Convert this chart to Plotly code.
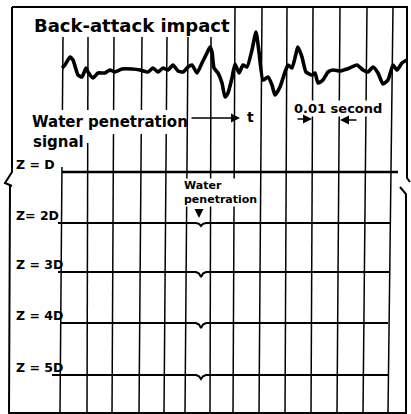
import plotly.graph_objects as go

# ---- data (chart units: x to the right, y downward) ----
impact_x = [62, 65, 70, 73, 78, 82, 86, 88, 93, 98, 105, 110, 115, 122, 132, 140, 148, 153, 158, 163,
            168, 173, 178, 183, 188, 192, 197, 202, 207, 210, 212, 214, 218, 222, 225, 228, 232, 235,
            239, 243, 247, 252, 256, 259, 263, 268, 272, 275, 280, 285, 288, 292, 298, 302, 306, 312,
            315, 318, 323, 328, 333, 340, 347, 357, 363, 368, 373, 378, 383, 388, 393, 397, 402, 407]
impact_y = [68, 65, 57, 60, 75, 77, 68, 72, 78, 73, 73, 70, 72, 69, 69, 70, 72, 68, 72, 68,
            70, 65, 71, 72, 67, 65, 73, 63, 53, 47, 52, 68, 73, 83, 97, 93, 78, 64,
            73, 65, 67, 50, 32, 52, 80, 77, 85, 95, 87, 72, 65, 68, 47, 57, 72, 75,
            73, 83, 80, 72, 70, 71, 69, 65, 70, 72, 67, 73, 84, 80, 65, 70, 63, 60]

channel_labels = ["Z = D", "Z= 2D", "Z = 3D", "Z = 4D", "Z = 5D"]
channel_base = [172, 223, 272, 323, 375]
channel_start = [62, 58, 58, 60, 52]
channel_end = [398, 390, 390, 388, 388]
channel_dip = [0, 3, 5, 5, 4]
dip_time = 201

mark_top_x = [63, 88, 114, 142, 167, 188, 211, 235, 262, 287, 313, 340, 367, 393]
mark_bottom_x = [60, 87, 112, 139, 164, 185, 210, 233, 259, 285, 311, 337, 363, 388]
mark_top_y = [37, 37, 37, 37, 37, 37, 37, 7, 7, 7, 7, 7, 7, 7]
mark_bottom_y = 413

FONT = "DejaVu Sans"
fig = go.Figure()

# timing marks
for xt, xb, yt in zip(mark_top_x, mark_bottom_x, mark_top_y):
    fig.add_trace(go.Scatter(x=[xt, xb], y=[yt, mark_bottom_y], mode="lines",
                             line=dict(color="black", width=1.5), hoverinfo="skip"))

# impact trace
fig.add_trace(go.Scatter(x=impact_x, y=impact_y, mode="lines",
                         line=dict(color="black", width=3.6, shape="spline", smoothing=0.5),
                         hoverinfo="skip"))

# channel traces
for base, xs, xe, d in zip(channel_base, channel_start, channel_end, channel_dip):
    xx = [xs, dip_time - 5, dip_time - 2, dip_time, dip_time + 2, dip_time + 5, xe]
    yy = [base, base, base + d * 0.3, base + d, base + d * 0.3, base, base]
    fig.add_trace(go.Scatter(x=xx, y=yy, mode="lines",
                             line=dict(color="black", width=2.4 if d == 0 else 2),
                             hoverinfo="skip"))

shapes = [
    dict(type="path", path="M 12 7 L 407 7 L 407 178 L 410 182", line=dict(color="black", width=2)),
    dict(type="path", path="M 12 7 L 12 172 L 5 183 L 12 186", line=dict(color="black", width=2)),
    dict(type="path", path="M 10 186 L 9 413 L 406 413 L 406 194 L 400 187", line=dict(color="black", width=2)),
    # masks behind label text
    dict(type="rect", x0=26, x1=184, y0=110, y1=134, fillcolor="white", line=dict(width=0), layer="above"),
    dict(type="rect", x0=26, x1=92, y0=134, y1=143, fillcolor="white", line=dict(width=0), layer="above"),
    dict(type="rect", x0=26, x1=70, y0=143, y1=167, fillcolor="white", line=dict(width=0), layer="above"),
]

ann = []
def txt(t, x, y, size, anchor="left", bg="rgba(0,0,0,0)"):
    ann.append(dict(text=t, x=x, y=y, xref="x", yref="y", showarrow=False, xanchor=anchor,
                    yanchor="middle", align="left",
                    font=dict(family=FONT, size=size, color="black", weight="bold"),
                    bgcolor=bg, borderpad=0))

txt("Back-attack impact", 33, 25, 18)
txt("Water penetration", 31, 122, 15)
txt("signal", 32, 142, 15)
txt("t", 250, 117, 14, anchor="center")
txt("0.01 second", 293, 108, 13, bg="white")
txt("Water<br>penetration", 183, 192, 11, bg="white")
for lab, base in zip(channel_labels, channel_base):
    txt(lab, 15, base - 8, 12.5)

def arrow(x0, y0, x1, y1):
    ann.append(dict(x=x1, y=y1, ax=x0, ay=y0, xref="x", yref="y", axref="x", ayref="y",
                    text="", showarrow=True, arrowhead=2, arrowsize=1.2, arrowwidth=1.5,
                    arrowcolor="black"))

arrow(190, 118, 240, 118)
arrow(296, 119, 312, 119)
arrow(358, 120, 340, 120)
arrow(199, 208, 199, 218)

fig.update_layout(
    width=411, height=414, margin=dict(l=0, r=0, t=0, b=0),
    paper_bgcolor="white", plot_bgcolor="white", showlegend=False,
    xaxis=dict(range=[0, 411], visible=False, fixedrange=True),
    yaxis=dict(range=[414, 0], visible=False, fixedrange=True),
    shapes=shapes, annotations=ann,
)
fig.write_html("out.html")
